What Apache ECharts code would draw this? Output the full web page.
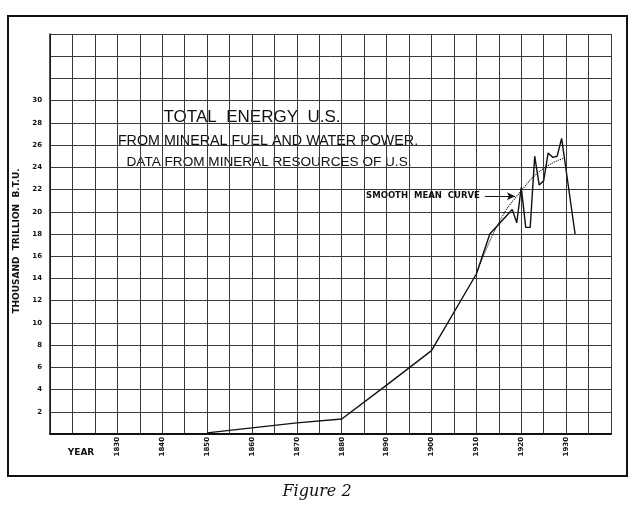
<!DOCTYPE html>
<html>
<head>
<meta charset="utf-8">
<title>Total Energy U.S.</title>
<script src="https://cdn.jsdelivr.net/npm/echarts@6/dist/echarts.min.js"></script>
<style>
	html, body {margin: 0; padding: 0; background: #fff;}
	#chart {width: 640px; height: 510px;}
</style>
</head>
<body>
<div id="chart"></div>
<script>
// yearly totals (thousand trillion B.T.U.)
var years = [1850, 1860, 1870, 1880, 1890, 1900, 1910, 1913, 1918, 1919, 1920, 1921, 1922, 1923, 1924, 1925, 1926, 1927, 1928, 1929, 1932];
var energy = [0.1, 0.55, 1.0, 1.35, 4.4, 7.5, 14.4, 18.0, 20.2, 19.0, 22.2, 18.6, 18.6, 25.0, 22.4, 22.8, 25.3, 24.9, 25.0, 26.6, 18.0];
// dotted smooth mean curve
var meanYears = [1910, 1915, 1920, 1925, 1930];
var meanEnergy = [14.4, 19.0, 21.9, 23.9, 24.9];
// tick labels that are actually printed
var yearLabels = [1830, 1840, 1850, 1860, 1870, 1880, 1890, 1900, 1910, 1920, 1930];
var valueLabels = [2, 4, 6, 8, 10, 12, 14, 16, 18, 20, 22, 24, 26, 28, 30];
var titleLines = ['TOTAL  ENERGY  U.S.', 'FROM MINERAL FUEL AND WATER POWER.', 'DATA FROM MINERAL RESOURCES OF U.S.'];

function pairs(xs, ys){
	var out = [];
	for (var i = 0; i < xs.length; i++) out.push([xs[i], ys[i]]);
	return out;
}

var myChart = echarts.init(document.getElementById('chart'));
var ink = '#111';
var option = {
	animation: false,
	backgroundColor: '#fff',
	grid: {
		left: 50,
		right: 29,
		top: 34,
		bottom: 76,
		containLabel: false
	},
	xAxis: {
		type: 'value',
		min: 1815,
		max: 1940,
		interval: 5,
		axisLine: {show: true, lineStyle: {color: ink, width: 2}},
		axisTick: {show: false},
		splitLine: {show: true, lineStyle: {color: '#3a3a3a', width: 1}},
		axisLabel: {
			rotate: 90,
			margin: 3,
			fontSize: 7,
			fontWeight: 'bold',
			fontFamily: 'DejaVu Sans',
			color: ink,
			formatter: function(v){
				return yearLabels.indexOf(v) >= 0 ? String(v) : '';
			}
		}
	},
	yAxis: {
		type: 'value',
		min: 0,
		max: 36,
		interval: 2,
		name: 'THOUSAND  TRILLION  B.T.U.',
		nameLocation: 'middle',
		nameGap: 19,
		nameRotate: 90,
		nameTextStyle: {fontSize: 9, fontWeight: 'bold', fontFamily: 'DejaVu Sans', color: ink, padding: [0, 0, 0, -14]},
		axisLine: {show: true, lineStyle: {color: ink, width: 1.5}},
		axisTick: {show: false},
		splitLine: {show: true, lineStyle: {color: '#3a3a3a', width: 1}},
		axisLabel: {
			margin: 8,
			fontSize: 7,
			fontWeight: 'bold',
			fontFamily: 'DejaVu Sans',
			color: ink,
			formatter: function(v){
				return valueLabels.indexOf(v) >= 0 ? String(v) : '';
			}
		}
	},
	series: [{
		name: 'Total energy',
		type: 'line',
		data: pairs(years, energy),
		showSymbol: false,
		symbol: 'none',
		lineStyle: {color: ink, width: 1.4},
		z: 3
	}, {
		name: 'Smooth mean curve',
		type: 'line',
		data: pairs(meanYears, meanEnergy),
		smooth: true,
		showSymbol: false,
		symbol: 'none',
		lineStyle: {color: ink, width: 1.1, type: 'dotted'},
		markLine: {
			silent: true,
			symbol: ['none', 'arrow'],
			symbolSize: [6, 8],
			lineStyle: {color: ink, width: 1, type: 'solid'},
			label: {
				show: true,
				position: 'start',
				distance: 5,
				formatter: 'SMOOTH  MEAN  CURVE',
				fontSize: 8.5,
				fontWeight: 'bold',
				fontFamily: 'DejaVu Sans',
				color: ink
			},
			data: [[{coord: [1911.9, 21.4]}, {coord: [1918.6, 21.4]}]]
		}
	}],
	graphic: [{
		type: 'rect',
		shape: {x: 8, y: 16, width: 619, height: 460},
		style: {fill: 'none', stroke: ink, lineWidth: 2},
		silent: true
	}, {
		type: 'text',
		x: 252, y: 117,
		style: {text: titleLines[0], fill: ink, font: '17px "Liberation Sans"', textAlign: 'center', textVerticalAlign: 'middle'}
	}, {
		type: 'text',
		x: 268, y: 141,
		style: {text: titleLines[1], fill: ink, font: '14.3px "Liberation Sans"', textAlign: 'center', textVerticalAlign: 'middle'}
	}, {
		type: 'text',
		x: 269, y: 162,
		style: {text: titleLines[2], fill: ink, font: '13.6px "Liberation Sans"', textAlign: 'center', textVerticalAlign: 'middle'}
	}, {
		type: 'text',
		x: 81, y: 453,
		style: {text: 'YEAR', fill: ink, font: 'bold 9px "DejaVu Sans"', textAlign: 'center', textVerticalAlign: 'middle'}
	}, {
		type: 'text',
		x: 317, y: 492,
		style: {text: 'Figure 2', fill: ink, font: 'italic 16px "DejaVu Serif"', textAlign: 'center', textVerticalAlign: 'middle'}
	}]
};
myChart.setOption(option);
</script>
</body>
</html>
